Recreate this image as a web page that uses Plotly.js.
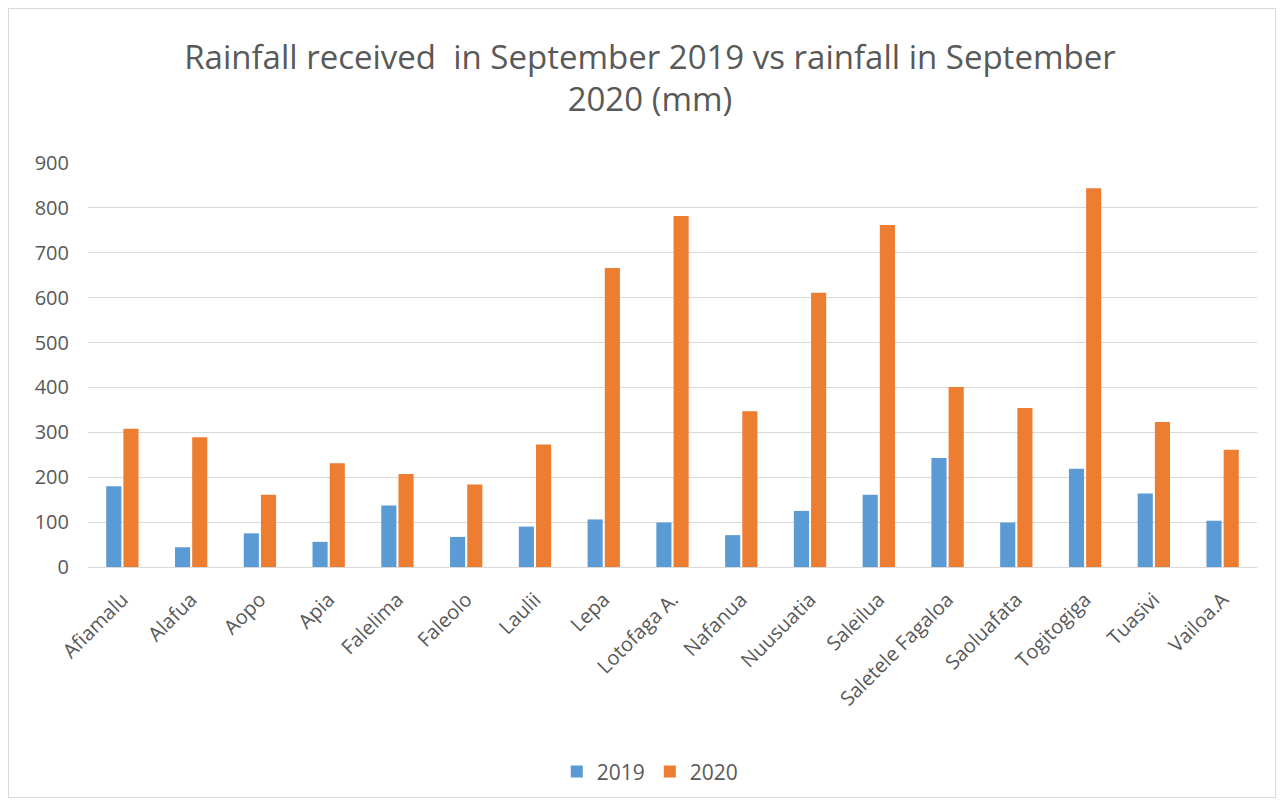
<!DOCTYPE html>
<html>
<head>
<meta charset="utf-8">
<script src="https://cdn.plot.ly/plotly-3.0.1.min.js"></script>
<style>
html,body{margin:0;padding:0;background:#fff;}
#frame{position:absolute;left:8px;top:8px;width:1268px;height:790px;border:1px solid #d9d9d9;box-sizing:border-box;}
#chart{position:absolute;left:0;top:0;width:1286px;height:806px;}
</style>
</head>
<body>
<div id="frame"></div>
<div id="chart"></div>
<script>
const categories = ["Afiamalu","Alafua","Aopo","Apia","Falelima","Faleolo","Laulii","Lepa","Lotofaga A.","Nafanua","Nuusuatia","Saleilua","Saletele Fagaloa","Saoluafata","Togitogiga","Tuasivi","Vailoa.A"];
const rain2019 = [180, 44, 75, 56, 137, 67, 90, 106, 99, 71, 125, 161, 243, 99, 219, 164, 103];
const rain2020 = [308, 289, 161, 231, 207, 184, 273, 666, 782, 347, 611, 762, 401, 354, 844, 323, 261];
const seriesNames = ["2019", "2020"];

const fontFam = "'Open Sans', Lato, sans-serif";
const grey = "#595959";

const data = [
  {type:"bar", name:seriesNames[0], x:categories, y:rain2019, marker:{color:"#5B9BD5"}},
  {type:"bar", name:seriesNames[1], x:categories, y:rain2020, marker:{color:"#ED7D31"}}
];

const layout = {
  width:1286, height:806,
  paper_bgcolor:"rgba(0,0,0,0)", plot_bgcolor:"#fff",
  margin:{l:88, r:29, t:163, b:239, autoexpand:false},
  barmode:"group", bargap:0.5, bargroupgap:0.12,
  title:{text:"Rainfall received  in September 2019 vs rainfall in September<br>2020 (mm)", x:0.5054, xanchor:"center", y:0.915, yanchor:"top",
         font:{family:fontFam, size:33, color:grey}},
  xaxis:{type:"category", tickangle:-45, tickfont:{family:fontFam, size:20, color:grey}, showgrid:false,
         showline:true, linecolor:"#d9d9d9", linewidth:1, ticks:"", automargin:false, ticklabelstandoff:12},
  yaxis:{range:[0,900], dtick:100, tickfont:{family:fontFam, size:20, color:grey}, gridcolor:"#d9d9d9",
         gridwidth:1, zeroline:false, showline:false, ticks:"", ticklen:0, automargin:false, ticklabelstandoff:18},
  legend:{orientation:"h", x:0.481, xanchor:"center", y:-0.507, yanchor:"middle",
          font:{family:fontFam, size:21, color:grey}, itemwidth:30}
};

Plotly.newPlot("chart", data, layout, {displayModeBar:false, responsive:false});
</script>
</body>
</html>
